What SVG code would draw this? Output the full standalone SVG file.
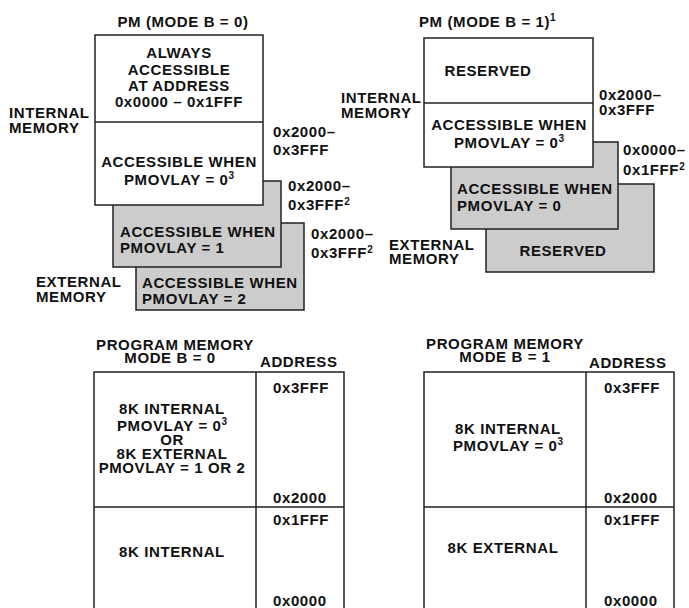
<svg xmlns="http://www.w3.org/2000/svg" width="689" height="608" viewBox="0 0 689 608">
<style>
text { font-family: "Liberation Sans", Arial, sans-serif; font-weight: bold; font-size: 15px; fill: #111; letter-spacing: 0.6px; }
.c { text-anchor: middle; }
.sup { font-size: 10px; letter-spacing: 0; }
.w { fill: #ffffff; stroke: #222; stroke-width: 1.5; }
.g { fill: #cccccc; stroke: #222; stroke-width: 1.5; }
.ln { stroke: #222; stroke-width: 1.5; fill: none; }
</style>
<rect width="689" height="608" fill="#ffffff"/>

<!-- Top-left: PM mode B = 0 -->
<g id="tl-title"><text class="c" x="183" y="27">PM (MODE B = 0)</text></g>
<g id="tl-ext-pmovlay2">
  <rect class="g" x="136" y="223" width="168" height="87"/>
  <text x="142" y="288">ACCESSIBLE WHEN</text>
  <text x="142" y="304">PMOVLAY = 2</text>
</g>
<g id="tl-ext-pmovlay1">
  <rect class="g" x="113" y="181" width="168" height="86"/>
  <text x="120" y="237">ACCESSIBLE WHEN</text>
  <text x="120" y="253">PMOVLAY = 1</text>
</g>
<g id="tl-internal">
  <rect class="w" x="95" y="35" width="168" height="170"/>
  <line class="ln" x1="95" y1="122" x2="263" y2="122"/>
  <text class="c" x="179" y="58">ALWAYS</text>
  <text class="c" x="179" y="75">ACCESSIBLE</text>
  <text class="c" x="179" y="91">AT ADDRESS</text>
  <text class="c" x="179" y="107">0x0000 – 0x1FFF</text>
  <text class="c" x="179" y="167">ACCESSIBLE WHEN</text>
  <text class="c" x="179" y="185">PMOVLAY = 0<tspan class="sup" dy="-6">3</tspan></text>
</g>
<g id="tl-labels">
  <text x="9" y="118">INTERNAL</text>
  <text x="9" y="133">MEMORY</text>
  <text x="36" y="287">EXTERNAL</text>
  <text x="36" y="302">MEMORY</text>
  <text x="273" y="137">0x2000–</text>
  <text x="273" y="155">0x3FFF</text>
  <text x="288" y="191">0x2000–</text>
  <text x="288" y="210">0x3FFF<tspan class="sup" dy="-5">2</tspan></text>
  <text x="311" y="239">0x2000–</text>
  <text x="311" y="258">0x3FFF<tspan class="sup" dy="-5">2</tspan></text>
</g>

<!-- Top-right: PM mode B = 1 -->
<g id="tr-title"><text x="419" y="27">PM (MODE B = 1)<tspan class="sup" dy="-6">1</tspan></text></g>
<g id="tr-ext-reserved">
  <rect class="g" x="486" y="184" width="168" height="88"/>
  <text class="c" x="563" y="256">RESERVED</text>
</g>
<g id="tr-ext-pmovlay0">
  <rect class="g" x="451" y="142" width="167" height="87"/>
  <text x="457" y="194">ACCESSIBLE WHEN</text>
  <text x="457" y="211">PMOVLAY = 0</text>
</g>
<g id="tr-internal">
  <rect class="w" x="424" y="38" width="169" height="129"/>
  <line class="ln" x1="424" y1="103" x2="593" y2="103"/>
  <text class="c" x="488" y="76">RESERVED</text>
  <text class="c" x="509" y="130">ACCESSIBLE WHEN</text>
  <text class="c" x="509" y="148">PMOVLAY = 0<tspan class="sup" dy="-6">3</tspan></text>
</g>
<g id="tr-labels">
  <text x="341" y="103">INTERNAL</text>
  <text x="341" y="118">MEMORY</text>
  <text x="389" y="250">EXTERNAL</text>
  <text x="389" y="264">MEMORY</text>
  <text x="599" y="100">0x2000–</text>
  <text x="599" y="115">0x3FFF</text>
  <text x="623" y="155">0x0000–</text>
  <text x="623" y="175">0x1FFF<tspan class="sup" dy="-5">2</tspan></text>
</g>

<!-- Bottom-left table -->
<g id="bl-table">
  <text class="c" x="175" y="350">PROGRAM MEMORY</text>
  <text class="c" x="170" y="363">MODE B = 0</text>
  <text x="260" y="367">ADDRESS</text>
  <path class="ln" d="M94,608 V372 H344 V608 M256,372 V608 M94,507 H344"/>
  <text x="273" y="393">0x3FFF</text>
  <text class="c" x="172" y="414">8K INTERNAL</text>
  <text class="c" x="172" y="431">PMOVLAY = 0<tspan class="sup" dy="-6">3</tspan></text>
  <text class="c" x="172" y="445">OR</text>
  <text class="c" x="172" y="459">8K EXTERNAL</text>
  <text class="c" x="172" y="473">PMOVLAY = 1 OR 2</text>
  <text x="273" y="503">0x2000</text>
  <text x="273" y="525">0x1FFF</text>
  <text class="c" x="172" y="557">8K INTERNAL</text>
  <text x="273" y="606">0x0000</text>
</g>

<!-- Bottom-right table -->
<g id="br-table">
  <text class="c" x="505" y="349">PROGRAM MEMORY</text>
  <text class="c" x="505" y="362">MODE B = 1</text>
  <text x="589" y="368">ADDRESS</text>
  <path class="ln" d="M424,608 V372 H674 V608 M586,372 V608 M424,507 H674"/>
  <text x="604" y="393">0x3FFF</text>
  <text class="c" x="508" y="434">8K INTERNAL</text>
  <text class="c" x="508" y="451">PMOVLAY = 0<tspan class="sup" dy="-6">3</tspan></text>
  <text x="604" y="503">0x2000</text>
  <text x="604" y="525">0x1FFF</text>
  <text class="c" x="503" y="553">8K EXTERNAL</text>
  <text x="604" y="606">0x0000</text>
</g>

<g id="connectors"></g>
</svg>
